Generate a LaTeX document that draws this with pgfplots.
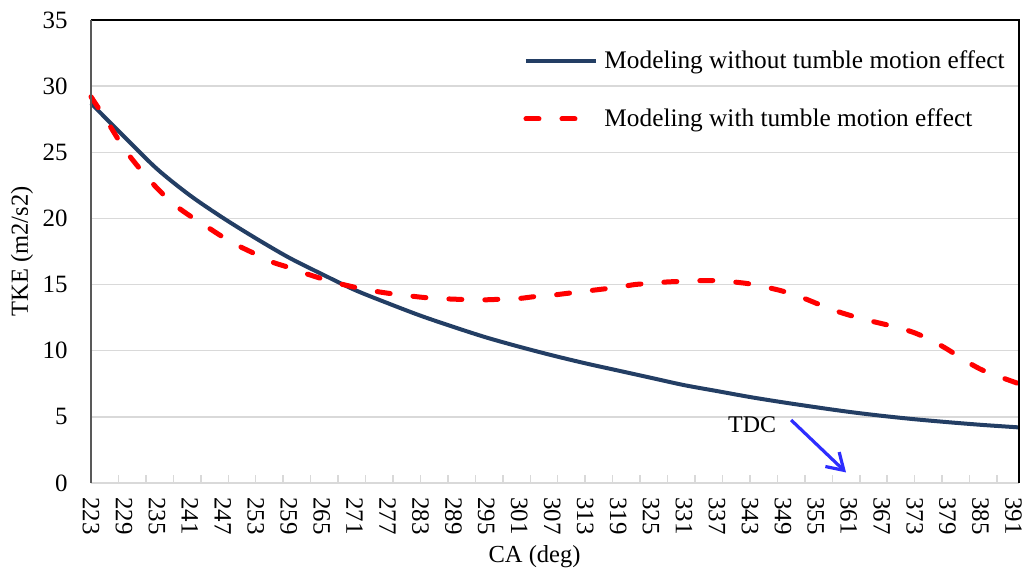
\documentclass[border=0pt]{standalone}
\usepackage{pgfplots}
\pgfplotsset{compat=1.18}
\usepackage{fontspec}
\setmainfont{Liberation Serif}
\usetikzlibrary{arrows.meta}
\definecolor{navy}{RGB}{35,62,100}
\definecolor{gridgray}{RGB}{217,217,217}
\definecolor{axgray}{RGB}{89,89,89}
\definecolor{tdcblue}{RGB}{45,45,255}

\begin{document}
\begin{tikzpicture}
\begin{axis}[
  name=ax,
  scale only axis, width=464bp, height=231.5bp,
  xmin=223, xmax=392, ymin=0, ymax=35,
  clip=false,
  xtick={223,229,...,391},
  minor xtick={228,233,...,388},
  ytick={0,5,...,35},
  xtick pos=bottom, ytick pos=left,
  major tick length=0pt, minor tick length=4bp,
  minor tick style={gridgray, line width=0.75bp},
  tick align=inside,
  ymajorgrids, grid style={gridgray, line width=0.75bp},
  axis line style={draw=none},
  /pgf/number format/assume math mode=true,
  /pgf/number format/1000 sep={},
  tick label style={font=\fontsize{12.5}{14}\selectfont},
  label style={font=\fontsize{12.3}{14}\selectfont},
  xticklabel style={rotate=-90, anchor=west, inner sep=0pt},
  xticklabel shift=7bp,
  yticklabel style={anchor=east, inner sep=0pt},
  yticklabel shift=11.5bp,
  xlabel={CA (deg)}, ylabel={TKE (m2/s2)},
  xlabel style={at={(axis description cs:0.478,-0.158)}, anchor=center},
  ylabel style={at={(axis description cs:-0.0744,0.5)}, anchor=center},
  legend style={at={(axis description cs:0.4656,0.9345)}, anchor=north west,
    draw=none, fill=none, inner sep=0pt, row sep=18.5bp,
    font=\fontsize{12.7}{14}\selectfont, nodes={inner sep=0pt},
    /tikz/every odd column/.append style={column sep=3bp}},
  legend cell align=left,
  legend image code/.code={\draw[#1] (0bp,0bp) -- (35bp,0bp);},
]
\addplot[navy, line width=2bp, smooth] coordinates {
(223,28.7) (229,26.2) (235,23.75) (241,21.75) (247,20.05) (253,18.5) (259,17.05)
(265,15.8) (271,14.6) (277,13.6) (283,12.65) (289,11.8) (295,11.0) (301,10.3)
(307,9.65) (313,9.05) (319,8.5) (325,7.95) (331,7.4) (337,6.95) (343,6.5)
(349,6.1) (355,5.73) (361,5.38) (367,5.08) (373,4.82) (379,4.6) (385,4.4)
(391,4.23) (392,4.2)
};
\addlegendentry{Modeling without tumble motion effect}
\addplot[red, line width=2.5bp, smooth, line cap=round, dash pattern=on 6.5bp off 11.5bp] coordinates {
(223,29.2) (226,27.3) (229,25.3) (232,23.7) (235,22.3) (238,21.1) (241,20.2)
(244,19.4) (247,18.6) (250,17.9) (253,17.3) (256,16.7) (259,16.3) (262,15.85)
(265,15.45) (268,15.1) (271,14.8) (274,14.55) (277,14.35) (280,14.2) (283,14.05)
(286,13.95) (289,13.9) (292,13.85) (295,13.85) (298,13.9) (301,13.95) (304,14.1)
(307,14.2) (310,14.35) (313,14.5) (316,14.65) (319,14.8) (322,15.0) (325,15.1)
(328,15.2) (331,15.25) (334,15.3) (337,15.3) (340,15.2) (343,15.05) (346,14.8)
(349,14.5) (352,14.1) (355,13.6) (358,13.1) (361,12.7) (364,12.35) (367,12.05)
(370,11.75) (373,11.35) (376,10.8) (379,10.1) (382,9.3) (385,8.6) (388,8.1)
(391,7.65) (392,7.5)
};
\addlegendentry{Modeling with tumble motion effect}
\draw[gridgray, line width=1bp] (rel axis cs:0,0) -- (rel axis cs:1,0);
\draw[black, line width=1bp] (rel axis cs:0,1) -- (rel axis cs:1,1) -- (rel axis cs:1,0);
\draw[axgray, line width=1bp] (rel axis cs:0,0) -- (rel axis cs:0,1);
\node[font=\fontsize{12}{14}\selectfont] at (axis cs:343.4,4.38) {TDC};
\draw[tdcblue, line width=1.6bp, -{Straight Barb[length=8bp,width=10bp]}] (axis cs:350.5,4.76) -- (axis cs:360.5,0.8);
\end{axis}
\pgfresetboundingbox
\path (ax.south west) ++(-45.5bp,-44.5bp) rectangle ++(511.5bp,286bp);
\end{tikzpicture}
\end{document}
